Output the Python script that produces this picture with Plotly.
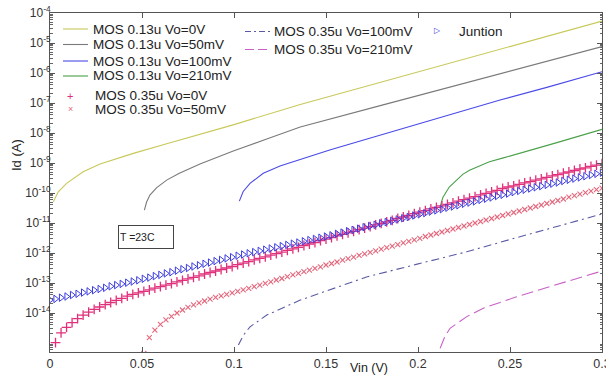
import plotly.graph_objects as go

# ---------------- data ----------------
# Vin sweep used by the marker series (V)
vin_sweep = [
    0.000, 0.003, 0.006, 0.009, 0.012, 0.015, 0.018, 0.021, 0.024, 0.027,
    0.030, 0.033, 0.036, 0.039, 0.042, 0.045, 0.048, 0.051, 0.054, 0.057,
    0.060, 0.063, 0.066, 0.069, 0.072, 0.075, 0.078, 0.081, 0.084, 0.087,
    0.090, 0.093, 0.096, 0.099, 0.102, 0.105, 0.108, 0.111, 0.114, 0.117,
    0.120, 0.123, 0.126, 0.129, 0.132, 0.135, 0.138, 0.141, 0.144, 0.147,
    0.150, 0.153, 0.156, 0.159, 0.162, 0.165, 0.168, 0.171, 0.174, 0.177,
    0.180, 0.183, 0.186, 0.189, 0.192, 0.195, 0.198, 0.201, 0.204, 0.207,
    0.210, 0.213, 0.216, 0.219, 0.222, 0.225, 0.228, 0.231, 0.234, 0.237,
    0.240, 0.243, 0.246, 0.249, 0.252, 0.255, 0.258, 0.261, 0.264, 0.267,
    0.270, 0.273, 0.276, 0.279, 0.282, 0.285, 0.288, 0.291, 0.294, 0.297,
    0.300,
]

# log10(Id / A)
junction_log_id = [
    -13.57, -13.53, -13.49, -13.45, -13.40, -13.36, -13.32, -13.28, -13.24, -13.20,
    -13.16, -13.11, -13.07, -13.03, -12.99, -12.95, -12.91, -12.86, -12.82, -12.77,
    -12.73, -12.68, -12.64, -12.59, -12.54, -12.50, -12.45, -12.41, -12.36, -12.32,
    -12.27, -12.23, -12.18, -12.14, -12.09, -12.05, -12.01, -11.97, -11.93, -11.89,
    -11.85, -11.81, -11.77, -11.73, -11.69, -11.65, -11.61, -11.57, -11.53, -11.49,
    -11.45, -11.41, -11.36, -11.32, -11.27, -11.23, -11.19, -11.14, -11.10, -11.06,
    -11.01, -10.97, -10.93, -10.88, -10.84, -10.80, -10.75, -10.71, -10.67, -10.62,
    -10.58, -10.54, -10.49, -10.45, -10.41, -10.36, -10.32, -10.28, -10.23, -10.19,
    -10.15, -10.10, -10.06, -10.02, -9.97, -9.93, -9.89, -9.85, -9.81, -9.77,
    -9.73, -9.69, -9.65, -9.60, -9.56, -9.52, -9.48, -9.44, -9.40, -9.36,
    -9.32,
]

mos035_vo0_log_id = [
    None, -14.99, -14.66, -14.48, -14.32, -14.19, -14.07, -13.97, -13.88, -13.80,
    -13.72, -13.65, -13.58, -13.51, -13.44, -13.38, -13.33, -13.28, -13.23, -13.17,
    -13.12, -13.07, -13.02, -12.96, -12.91, -12.86, -12.81, -12.76, -12.70, -12.65,
    -12.60, -12.55, -12.50, -12.45, -12.39, -12.34, -12.29, -12.23, -12.18, -12.13,
    -12.07, -12.02, -11.97, -11.91, -11.86, -11.81, -11.75, -11.70, -11.65, -11.59,
    -11.54, -11.49, -11.43, -11.38, -11.33, -11.28, -11.22, -11.17, -11.12, -11.06,
    -11.01, -10.96, -10.91, -10.85, -10.80, -10.75, -10.69, -10.64, -10.59, -10.53,
    -10.48, -10.43, -10.38, -10.33, -10.27, -10.22, -10.17, -10.12, -10.06, -10.01,
    -9.96, -9.91, -9.85, -9.80, -9.76, -9.71, -9.66, -9.62, -9.57, -9.53,
    -9.48, -9.43, -9.39, -9.34, -9.30, -9.25, -9.20, -9.16, -9.11, -9.07,
    -9.02,
]

mos035_vo50_log_id = [
    None, None, None, None, None, None, None, None, None, None,
    None, None, None, None, None, None, None, -15.35, -14.82, -14.57,
    -14.38, -14.23, -14.11, -14.00, -13.90, -13.81, -13.73, -13.66, -13.60, -13.54,
    -13.48, -13.43, -13.38, -13.33, -13.28, -13.23, -13.18, -13.12, -13.07, -13.01,
    -12.96, -12.90, -12.85, -12.79, -12.73, -12.68, -12.62, -12.57, -12.51, -12.46,
    -12.40, -12.35, -12.30, -12.24, -12.19, -12.14, -12.08, -12.03, -11.98, -11.93,
    -11.87, -11.82, -11.77, -11.72, -11.66, -11.61, -11.56, -11.51, -11.45, -11.40,
    -11.35, -11.30, -11.25, -11.20, -11.15, -11.10, -11.05, -11.00, -10.95, -10.90,
    -10.85, -10.80, -10.75, -10.70, -10.65, -10.60, -10.55, -10.50, -10.45, -10.40,
    -10.35, -10.30, -10.25, -10.20, -10.14, -10.09, -10.04, -9.99, -9.94, -9.89,
    -9.84,
]

# line series: (Vin, log10 Id)
mos013_vo0_vin = [0.0018, 0.0045, 0.009, 0.018, 0.0272, 0.0453, 0.0634, 0.0815, 0.100, 0.136, 0.180, 0.218, 0.260, 0.300]
mos013_vo0_log = [-10.29, -9.96, -9.68, -9.29, -9.03, -8.68, -8.36, -8.04, -7.72, -7.05, -6.30, -5.67, -4.95, -4.27]

mos013_vo50_vin = [0.0513, 0.0525, 0.0543, 0.058, 0.0634, 0.070, 0.0815, 0.0996, 0.1178, 0.136, 0.180, 0.218, 0.260, 0.300]
mos013_vo50_log = [-10.57, -10.30, -10.07, -9.82, -9.57, -9.35, -9.03, -8.60, -8.20, -7.80, -7.08, -6.46, -5.78, -5.12]

mos013_vo100_vin = [0.1029, 0.105, 0.1087, 0.1159, 0.125, 0.134, 0.152, 0.170, 0.1935, 0.207, 0.2446, 0.270, 0.300]
mos013_vo100_log = [-10.27, -9.95, -9.68, -9.34, -9.10, -8.92, -8.57, -8.24, -7.82, -7.58, -6.90, -6.48, -5.96]

mos013_vo210_vin = [0.2122, 0.2135, 0.217, 0.219, 0.2243, 0.228, 0.2388, 0.2464, 0.2569, 0.2627, 0.275, 0.300]
mos013_vo210_log = [-10.42, -10.15, -9.80, -9.68, -9.38, -9.24, -8.96, -8.83, -8.65, -8.55, -8.33, -7.88]

mos035_vo100_vin = [0.1024, 0.105, 0.1087, 0.1178, 0.136, 0.154, 0.172, 0.199, 0.2116, 0.2265, 0.250, 0.275, 0.300]
mos035_vo100_log = [-15.07, -14.75, -14.46, -14.07, -13.57, -13.18, -12.80, -12.38, -12.18, -11.96, -11.55, -11.13, -10.70]

mos035_vo210_vin = [0.212, 0.2145, 0.2174, 0.2265, 0.2355, 0.2536, 0.2717, 0.300]
mos035_vo210_log = [-15.18, -14.80, -14.51, -14.12, -13.84, -13.46, -13.12, -12.60]

x_ticks = [0, 0.05, 0.1, 0.15, 0.2, 0.25, 0.3]
x_tick_labels = ["0", "0.05", "0.1", "0.15", "0.2", "0.25", "0.3"]
y_tick_exps = [-4, -5, -6, -7, -8, -9, -10, -11, -12, -13, -14]

# ---------------- helpers ----------------
def amps(logs):
    return [None if v is None else 10 ** v for v in logs]

C_Y = "#c8c85a"
C_G = "#7a7a7a"
C_B = "#4a4ae8"
C_GR = "#4aa04a"
C_PLUS = "#e0307c"
C_X = "#e4687e"
C_TRI = "#3c3ce0"
C_DD = "#5a5aa4"
C_LD = "#c860c8"

fig = go.Figure()

def line(xv, lv, color, dash="solid", w=1.1):
    fig.add_trace(go.Scatter(x=xv, y=amps(lv), mode="lines",
                             line=dict(color=color, width=w, dash=dash),
                             showlegend=False, hoverinfo="skip"))

line(mos013_vo0_vin, mos013_vo0_log, C_Y)
line(mos013_vo50_vin, mos013_vo50_log, C_G)
line(mos013_vo100_vin, mos013_vo100_log, C_B)
line(mos013_vo210_vin, mos013_vo210_log, C_GR)
line(mos035_vo100_vin, mos035_vo100_log, C_DD, dash="8px,4px,2px,4px")
line(mos035_vo210_vin, mos035_vo210_log, C_LD, dash="12px,5px")

fig.add_trace(go.Scatter(x=vin_sweep, y=amps(mos035_vo50_log_id), mode="markers",
                         marker=dict(symbol="x-thin", size=5, color=C_X,
                                     line=dict(color=C_X, width=1.1)),
                         showlegend=False, hoverinfo="skip"))
fig.add_trace(go.Scatter(x=vin_sweep, y=amps(mos035_vo0_log_id), mode="markers",
                         marker=dict(symbol="cross-thin", size=7, color=C_PLUS,
                                     line=dict(color=C_PLUS, width=1.3)),
                         showlegend=False, hoverinfo="skip"))
fig.add_trace(go.Scatter(x=vin_sweep, y=amps(junction_log_id), mode="markers",
                         marker=dict(symbol="triangle-right-open", size=6.5, color=C_TRI,
                                     line=dict(color=C_TRI, width=1)),
                         showlegend=False, hoverinfo="skip"))

# ---------------- layout geometry ----------------
W, H = 606, 378
L, R, T, B = 50, 4, 13, 26
PW, PH = W - L - R, H - T - B

def px(xp):
    return (xp - L) / PW

def py(yp):
    return (H - B - yp) / PH

minor_vals = [m * 10.0 ** e for e in range(-16, -4) for m in range(2, 10)]

fig.update_layout(
    width=W, height=H,
    margin=dict(l=L, r=R, t=T, b=B, autoexpand=False),
    paper_bgcolor="white", plot_bgcolor="white",
    font=dict(family="Liberation Sans, Arial, sans-serif", color="#222"),
    xaxis=dict(range=[0, 0.3], tickvals=x_ticks, ticktext=x_tick_labels,
               ticks="inside", ticklen=5, tickcolor="#555", showgrid=False,
               zeroline=False, showline=True, linecolor="#555", linewidth=1,
               mirror="ticks", automargin=False, ticklabeloverflow="allow",
               tickfont=dict(size=12.5, color="#333")),
    yaxis=dict(type="log", range=[-15.3, -4],
               tickvals=[10.0 ** e for e in y_tick_exps],
               ticktext=["10<sup>%d</sup>" % e for e in y_tick_exps],
               ticks="inside", ticklen=5, tickcolor="#555", showgrid=False,
               zeroline=False, showline=True, linecolor="#555", linewidth=1,
               mirror="ticks", automargin=False, ticklabeloverflow="allow",
               ticklabelstandoff=-4,
               tickfont=dict(size=12, color="#333"),
               minor=dict(tickvals=minor_vals, ticks="inside", ticklen=2.5,
                          tickcolor="#666", showgrid=False)),
)

ann = []
shapes = []

def note(text, xp, yp, size, color="#222", xanchor="center", **kw):
    d = dict(text=text, x=px(xp), y=py(yp), xref="paper", yref="paper",
             xanchor=xanchor, yanchor="middle", showarrow=False,
             font=dict(size=size, color=color))
    d.update(kw)
    ann.append(d)

# axis titles
note("Vin (V)", 369, 368, 12.5)
note("Id (A)", 16, 155, 13, textangle=-90)

# temperature box
note("T =23C", 145.5, 236.5, 10.5, width=52, height=20, align="left",
     bordercolor="#444", borderwidth=1, borderpad=1, bgcolor="white")

# manual legend
LF = 13.5
leg_lines = [
    ("MOS 0.13u Vo=0V", C_Y, 29),
    ("MOS 0.13u Vo=50mV", C_G, 44.5),
    ("MOS 0.13u Vo=100mV", C_B, 61),
    ("MOS 0.13u Vo=210mV", C_GR, 76),
]
for label, col, yy in leg_lines:
    shapes.append(dict(type="line", xref="paper", yref="paper",
                       x0=px(63), x1=px(88), y0=py(yy), y1=py(yy),
                       line=dict(color=col, width=1.1)))
    note(label, 91, yy, LF, xanchor="left")

leg_marks = [
    ("MOS 0.35u Vo=0V", "+", C_PLUS, 95.5, 11),
    ("MOS 0.35u Vo=50mV", "×", C_X, 109, 9),
]
for label, glyph, col, yy, gs in leg_marks:
    note(glyph, 70, yy, gs, color=col)
    note(label, 93, yy, LF, xanchor="left")

leg2 = [
    ("MOS 0.35u Vo=100mV", C_DD, "6px,3px,2px,3px", 31.5),
    ("MOS 0.35u Vo=210mV", C_LD, "9px,4px", 49.5),
]
for label, col, dash, yy in leg2:
    shapes.append(dict(type="line", xref="paper", yref="paper",
                       x0=px(245), x1=px(270), y0=py(yy), y1=py(yy),
                       line=dict(color=col, width=1.1, dash=dash)))
    note(label, 272, yy, LF, xanchor="left")

ann.append(dict(text="▷", x=px(437), y=py(31), xref="paper", yref="paper",
                xanchor="center", yanchor="middle", showarrow=False,
                font=dict(size=8, color=C_TRI, family="DejaVu Sans")))
note("Juntion", 457, 31.5, LF, xanchor="left")

fig.update_layout(annotations=ann, shapes=shapes)

fig.write_html(
    "out.html",
    config={"displayModeBar": False},
    post_script="document.body.style.margin='0';document.body.style.overflow='hidden';",
)
